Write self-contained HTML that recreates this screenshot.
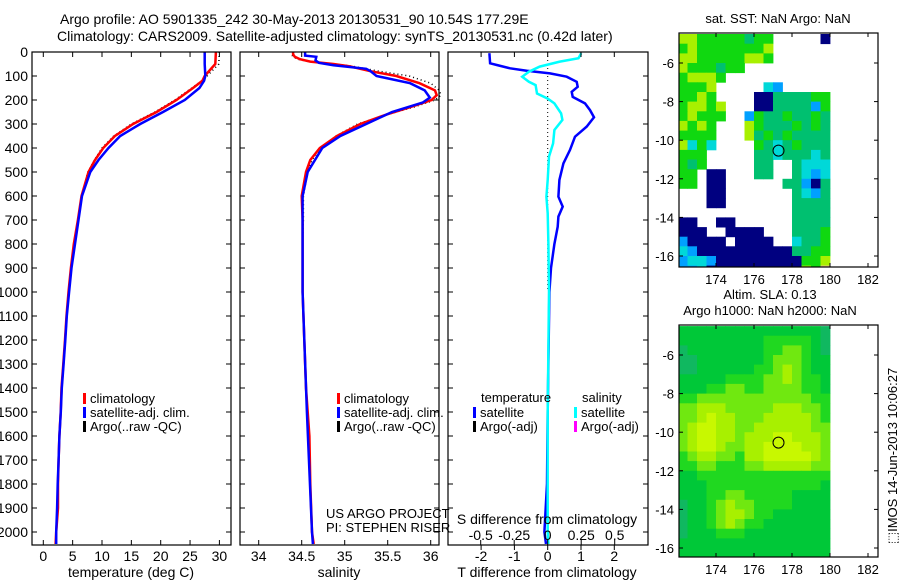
<!DOCTYPE html>
<html><head><meta charset="utf-8">
<style>
html,body{margin:0;padding:0;background:#fff;}
svg{display:block;font-family:"Liberation Sans",sans-serif;}
text{fill:#000;}
</style></head>
<body>
<svg id="fig" width="900" height="580" viewBox="0 0 900 580" xmlns="http://www.w3.org/2000/svg">
<text x="60" y="24" font-size="14">Argo profile: AO 5901335_242 30-May-2013 20130531_90 10.54S 177.29E</text>
<text x="57" y="41" font-size="14">Climatology: CARS2009. Satellite-adjusted climatology: synTS_20130531.nc (0.42d later)</text>
<text x="778" y="23" font-size="13" text-anchor="middle">sat. SST: NaN Argo: NaN</text>
<text x="770" y="299" font-size="13" text-anchor="middle">Altim. SLA: 0.13</text>
<text x="770" y="315" font-size="13" text-anchor="middle">Argo h1000: NaN h2000: NaN</text>
<text x="0" y="0" font-size="13" text-anchor="middle" transform="translate(897,456) rotate(-90)">&#x2B1A;IMOS 14-Jun-2013 10:06:27</text>
<g id="g1"></g>
<g id="g2"></g>
<g id="g3"></g>
<g id="g4"></g>
<g id="g5"></g>
</svg>
<script>
// ---------- data ----------
const depthTicks = [0,100,200,300,400,500,600,700,800,900,1000,1100,1200,1300,1400,1500,1600,1700,1800,1900,2000];
const tempTicks = [0,5,10,15,20,25,30];
const salTicks = [34,34.5,35,35.5,36];
const salTickLabels = ["34","34.5","35","35.5","36"];
const tdiffTicks = [-2,-1,0,1,2];
const sdiffTicks = [-0.5,-0.25,0,0.25,0.5];
const sdiffTickLabels = ["-0.5","-0.25","0","0.25","0.5"];

const tempDepth = [0,50,100,120,150,200,250,300,350,400,450,500,600,700,800,900,1000,1100,1200,1300,1400,1500,1600,1700,1800,1900,2000,2050];
const tempClim = [29.4,29.3,27.5,27.1,25.5,22.7,19.3,15.3,12.2,10.2,8.8,7.7,6.5,5.9,5.2,4.7,4.3,3.95,3.7,3.4,3.1,2.96,2.75,2.6,2.5,2.5,2.2,2.1];
const tempSat = [27.5,27.5,27.6,27.4,26.6,24.1,20.4,16.5,13.1,11.1,9.4,8.0,6.6,6.0,5.4,4.8,4.4,4.0,3.75,3.45,3.15,2.98,2.75,2.6,2.45,2.35,2.2,2.2];
const tempArgo = [30.0,29.9,27.9,27.0,25.3,22.4,19.0,15.0,12.0,10.0,8.7,7.6,6.5,5.9,5.2,4.7,4.3,3.95,3.7,3.4,3.1,2.95,2.75,2.6,2.5,2.45,2.2,2.1];

const salDepth = [0,10,20,30,40,50,60,80,100,130,160,180,200,230,260,300,350,400,450,500,600,700,800,1000,1200,1400,1600,1800,2000,2050];
const salClim = [34.40,34.40,34.42,34.48,34.6,34.87,35.06,35.3,35.6,35.87,36.05,36.07,36.01,35.76,35.49,35.18,34.91,34.71,34.6,34.55,34.5,34.51,34.51,34.51,34.53,34.55,34.59,34.6,34.62,34.64];
const salArgo = [34.40,34.38,34.40,34.45,34.58,34.9,35.1,35.4,35.75,36.0,36.1,36.12,36.05,35.8,35.5,35.15,34.9,34.72,34.62,34.57,34.52,34.52,34.51,34.51,34.53,34.55,34.59,34.6,34.62,34.64];
const salSatDepth = [0,15,20,35,45,55,70,80,100,130,160,190,210,250,300,350,400,500,600,1000,1500,2000,2050];
const salSat = [34.54,34.54,34.67,34.66,34.70,34.87,35.25,35.3,35.37,35.76,35.93,35.99,35.91,35.55,35.25,34.95,34.74,34.57,34.51,34.51,34.56,34.62,34.63];

const tdiffDepth = [5,47,54,68,78,89,103,124,145,166,187,214,242,272,311,353,408,464,533,603,644,686,728,800,900,1000,1200,1500,1800,2000,2050];
const tdiffSat = [-1.75,-1.73,-1.53,-1.13,-0.63,0.07,0.57,0.87,0.9,0.72,0.75,1.12,1.27,1.39,1.17,0.82,0.67,0.47,0.35,0.32,0.45,0.32,0.3,0.2,0.1,0.05,0.03,0.0,-0.02,-0.1,-0.05];
const sdiffDepth = [5,26,40,61,82,103,124,138,173,194,214,256,283,325,381,436,533,603,672,800,1000,1500,2000,2050];
const sdiffSat = [0.25,0.23,0.09,-0.06,-0.14,-0.19,-0.14,-0.09,-0.08,0.0,0.05,0.10,0.11,0.05,0.04,0.01,0,-0.01,0,0.005,0.01,0.0,0.0,0.005];

const lonTicks = [174,176,178,180,182];
const latTicks = [-6,-8,-10,-12,-14,-16];
const argoLon = 177.29, argoLat = -10.54;
const gridLon0 = 172.0, gridLat0 = -4.5, gridStep = 0.5;
const sstRows = [
"yygggggtgg.....n",
"gygggggggy......",
"yygggggyyg......",
"ygggtgg.........",
"gyyyg...........",
"gggy.....cb.....",
"ggyg....nnttttgg",
"gyygy...nnttttbg",
"gyggg..bgttgttgt",
"ygyg...ygtttgtgt",
"gggg...ytgtgtttt",
"ycgc....gtctgttt",
"ggg.....ttctttct",
"gtg.....tt..tccc",
"gg.nn...tt..tcbc",
"gg.nn......ttbnt",
"...nn.......tcbt",
"...nn.......tttt",
"............tttt",
"nn..nn......tttt",
"nnn..nnnn...tttg",
"bnnnn.nnnn..cttg",
"cbnnnnnnnnnnttgg",
"bccbnnnnnnnnnggy",
"bbcnnnnnnnnnnygo"];
const slaRows = [
"1111111111111110","1111111112222210","0111111112233210","0011111112333211",
"0011111122343211","1111122223343221","1112233223333221","2233333333333322",
"3344433333444332","3345443334444432","3455443344444433","3455443444554443",
"3455433445555443","2344332445555543","2233222334444433","1122222222222222",
"1112222222222221","1112233222221111","0112343322221111","0112344322111111",
"0112343221111111","0111222111111111","1111111111111111","1111111111111111","1111111111111111"];

// ---------- helpers ----------
const NS = "http://www.w3.org/2000/svg";
function mk(parent, tag, attrs, txt){
  const e = document.createElementNS(NS, tag);
  for (const k in attrs) e.setAttribute(k, attrs[k]);
  if (txt !== undefined) e.textContent = txt;
  parent.appendChild(e);
  return e;
}
const top0 = 52, bot0 = 545, dScale = 0.24;
const yD = d => top0 + d*dScale;

function frame(g, l, r, t, b){
  const f = mk(g,'rect',{x:l,y:t,width:r-l,height:b-t,fill:'none',stroke:'#000','stroke-width':1.2});
  
  
}
function depthAxis(g, l, r, labels){
  depthTicks.forEach(d=>{
    const y = yD(d);
    const t1 = mk(g,'line',{x1:l,x2:l+5,y1:y,y2:y,stroke:'#000'});
    
    
    const t2 = mk(g,'line',{x1:r-5,x2:r,y1:y,y2:y,stroke:'#000'});
    
    
    if (labels){
      const tx = mk(g,'text',{x:l-4,y:y+5,'font-size':14,'text-anchor':'end'}, String(d));
      
      
    }
  });
}
function xAxis(g, ticks, labels, fx, t, b, ly){
  ticks.forEach((v,i)=>{
    const x = fx(v);
    const a = mk(g,'line',{x1:x,x2:x,y1:b-5,y2:b,stroke:'#000'});
    
    
    const c = mk(g,'line',{x1:x,x2:x,y1:t,y2:t+5,stroke:'#000'});
    
    
    const tx = mk(g,'text',{x:x,y:ly,'font-size':14,'text-anchor':'middle'}, labels[i]);
    
    
  });
}
function series(g, xs, depths, fx, color, w, dash, name){
  const pts = xs.map((v,i)=>fx(v).toFixed(1)+','+yD(depths[i]).toFixed(1)).join(' ');
  const a = {points:pts,fill:'none',stroke:color,'stroke-width':w};
  if (dash) a['stroke-dasharray'] = dash;
  const p = mk(g,'polyline',a);
  
  
}
function legendEntry(g, x, y, color, label){
  const r = mk(g,'rect',{x:x,y:y-10,width:3,height:11,fill:color});
  
  
  const t = mk(g,'text',{x:x+7,y:y,'font-size':13}, label);
  
  
}

// ---------- panel 1: temperature ----------
(function(){
  const g = document.getElementById('g1');
  const l=32,r=231, fx = v => 43.3 + v*5.87;
  series(g,tempArgo,tempDepth,fx,'#000',1.5,'1,3','argo-temperature-line');
  series(g,tempClim,tempDepth,fx,'#ff0000',2.5,null,'climatology-temperature-line');
  series(g,tempSat,tempDepth,fx,'#0000ff',2.5,null,'satellite-temperature-line');
  frame(g,l,r,top0,bot0);
  depthAxis(g,l,r,true);
  xAxis(g,tempTicks,tempTicks.map(String),fx,top0,bot0,561);
  const xl = mk(g,'text',{x:131,y:577,'font-size':14,'text-anchor':'middle'},'temperature (deg C)');
  
  
  legendEntry(g,83,403,'#ff0000','climatology');
  legendEntry(g,83,417,'#0000ff','satellite-adj. clim.');
  legendEntry(g,83,431,'#000','Argo(..raw -QC)');
})();

// ---------- panel 2: salinity ----------
(function(){
  const g = document.getElementById('g2');
  const l=240,r=439, fx = v => 258.7 + (v-34)*86;
  series(g,salArgo,salDepth,fx,'#000',1.5,'1,3','argo-salinity-line');
  series(g,salClim,salDepth,fx,'#ff0000',2.5,null,'climatology-salinity-line');
  series(g,salSat,salSatDepth,fx,'#0000ff',2.5,null,'satellite-salinity-line');
  frame(g,l,r,top0,bot0);
  depthAxis(g,l,r,false);
  xAxis(g,salTicks,salTickLabels,fx,top0,bot0,561);
  const xl = mk(g,'text',{x:339,y:577,'font-size':14,'text-anchor':'middle'},'salinity');
  
  
  legendEntry(g,337,403,'#ff0000','climatology');
  legendEntry(g,337,417,'#0000ff','satellite-adj. clim.');
  legendEntry(g,337,431,'#000','Argo(..raw -QC)');
  const a = mk(g,'text',{x:326,y:518,'font-size':13},'US ARGO PROJECT');
  
  
  const b = mk(g,'text',{x:326,y:532,'font-size':13},'PI: STEPHEN RISER');
  
  
})();

// ---------- panel 3: differences ----------
(function(){
  const g = document.getElementById('g3');
  const l=448,r=648, fx = v => 547.7 + v*33.3, fs = v => 547.7 + v*134;
  const z = mk(g,'line',{x1:fx(0),x2:fx(0),y1:top0,y2:yD(1000),stroke:'#000','stroke-dasharray':'1,3'});
  
  
  series(g,tdiffSat,tdiffDepth,fx,'#0000ff',2.5,null,'temperature-difference-line');
  series(g,sdiffSat,sdiffDepth,fs,'#00ffff',2.5,null,'salinity-difference-line');
  frame(g,l,r,top0,bot0);
  depthAxis(g,l,r,false);
  tdiffTicks.forEach(v=>{
    const x = fx(v);
    const a = mk(g,'line',{x1:x,x2:x,y1:top0,y2:top0+5,stroke:'#000'});
    
    
    const b = mk(g,'line',{x1:x,x2:x,y1:bot0,y2:bot0+5,stroke:'#000'});
    
    
    const t = mk(g,'text',{x:x,y:561,'font-size':14,'text-anchor':'middle'},String(v));
    
    
  });
  sdiffTicks.forEach((v,i)=>{
    const x = fs(v);
    const a = mk(g,'line',{x1:x,x2:x,y1:bot0-5,y2:bot0,stroke:'#000'});
    
    
    const t = mk(g,'text',{x:x,y:540,'font-size':14,'text-anchor':'middle'},sdiffTickLabels[i]);
    
    
  });
  const st = mk(g,'text',{x:547,y:524,'font-size':14,'text-anchor':'middle'},'S difference from climatology');
  
  
  const tt = mk(g,'text',{x:547,y:577,'font-size':14,'text-anchor':'middle'},'T difference from climatology');
  
  
  const h1 = mk(g,'text',{x:481,y:402,'font-size':13},'temperature');
  
  
  const h2 = mk(g,'text',{x:582,y:402,'font-size':13},'salinity');
  
  
  legendEntry(g,473,417,'#0000ff','satellite');
  legendEntry(g,473,431,'#000','Argo(-adj)');
  legendEntry(g,574,417,'#00ffff','satellite');
  legendEntry(g,574,431,'#ff00ff','Argo(-adj)');
})();

// ---------- maps ----------
const sstColors = {y:'#a8f000',g:'#10d810',t:'#00c070',c:'#00d8d8',b:'#00a0ff',n:'#000080',o:'#f8c8a0'};
const slaColors = ['#10b860','#00c838','#20d820','#70e810','#a8f000','#c8f800'];
function drawMap(g, t, b, rows, colorFn, clipId){
  const l=679, r=878;
  const fx = lon => 716 + (lon-174)*19;
  const fy = lat => 63 + t - 33 - (lat+6)*19.3;
  const defs = mk(g,'defs',{});
  const cp = mk(defs,'clipPath',{id:clipId});
  mk(cp,'rect',{x:l,y:t,width:r-l,height:b-t});
  const cells = mk(g,'g',{'clip-path':'url(#'+clipId+')'});
  rows.forEach((row,ri)=>{
    for (let ci=0; ci<row.length; ci++){
      const col = colorFn(row[ci]);
      if (!col) continue;
      const lon = gridLon0 + ci*gridStep, lat = gridLat0 - ri*gridStep;
      const x0 = fx(lon), y0 = fy(lat);
      const c = mk(cells,'rect',{x:x0.toFixed(1),y:y0.toFixed(1),width:(fx(lon+gridStep)-x0+0.4).toFixed(1),height:(fy(lat-gridStep)-y0+0.4).toFixed(1),fill:col});
      
      
    }
  });
  const ring = mk(g,'circle',{cx:fx(argoLon),cy:fy(argoLat),r:5.5,fill:'none',stroke:'#000','stroke-width':1});
  
  
  frame(g,l,r,t,b);
  lonTicks.forEach(v=>{
    const x = fx(v);
    const a = mk(g,'line',{x1:x,x2:x,y1:b-4,y2:b,stroke:'#000'});
    
    
    const c = mk(g,'line',{x1:x,x2:x,y1:t,y2:t+4,stroke:'#000'});
    
    
    const tx = mk(g,'text',{x:x,y:b+17,'font-size':13,'text-anchor':'middle'},String(v));
    
    
  });
  latTicks.forEach(v=>{
    const y = fy(v);
    const a = mk(g,'line',{x1:l,x2:l+4,y1:y,y2:y,stroke:'#000'});
    
    
    const c = mk(g,'line',{x1:r-4,x2:r,y1:y,y2:y,stroke:'#000'});
    
    
    const tx = mk(g,'text',{x:l-5,y:y+5,'font-size':13,'text-anchor':'end'},String(v));
    
    
  });
}
drawMap(document.getElementById('g4'),33,267,sstRows,ch=>sstColors[ch]||null,'clipA');
drawMap(document.getElementById('g5'),325,557,slaRows,ch=>slaColors[+ch],'clipB');
</script>
</body></html>
